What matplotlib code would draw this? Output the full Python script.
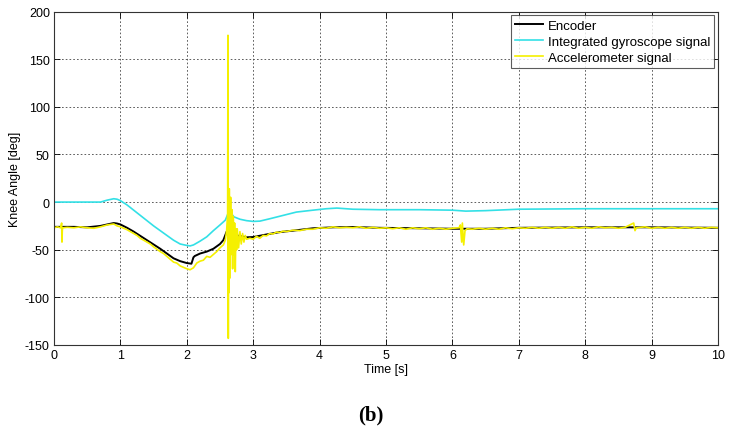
import matplotlib
matplotlib.use("Agg")
import matplotlib.pyplot as plt

plt.rcParams['font.family'] = ['Liberation Sans', 'DejaVu Sans']
plt.rcParams['axes.unicode_minus'] = False

# ---- data ----
enc_t = [0, 0.3, 0.5, 0.7, 0.8, 0.9, 0.95, 1.0, 1.1, 1.2, 1.3, 1.4, 1.5, 1.6, 1.7, 1.8,
         1.9, 2.0, 2.07, 2.1, 2.12, 2.2, 2.3, 2.4, 2.5, 2.55, 2.6, 2.65, 2.75, 2.9, 3.0,
         3.2, 3.4, 3.6, 3.9, 4.2, 4.5, 4.9, 5.5, 6.0, 6.5, 7.0, 8.0, 9.0, 10.0]
enc_v = [-26, -26, -26.5, -25, -23.5, -22, -22.5, -23.5, -27, -31, -35.5, -40, -44.5, -49, -54, -59,
         -62, -64, -64.7, -58, -56.6, -54, -52, -49, -44, -40, -31, -33, -35, -37, -36.7,
         -34, -31.5, -30, -27.5, -26.5, -26.2, -27, -27.5, -28, -28, -27, -26.5, -26.5, -27]

gyr_t = [0, 0.7, 0.8, 0.9, 0.95, 1.0, 1.1, 1.2, 1.3, 1.4, 1.5, 1.6, 1.7, 1.8, 1.9, 2.0, 2.05,
         2.1, 2.2, 2.3, 2.4, 2.5, 2.58, 2.63, 2.67, 2.71, 2.8, 2.9, 3.0, 3.1, 3.25, 3.45, 3.65,
         3.9, 4.1, 4.26, 4.5, 4.9, 5.5, 6.0, 6.2, 6.5, 7.0, 8.0, 9.0, 10.0]
gyr_v = [0, 0, 2, 3.5, 3, 1.5, -3, -8.5, -14, -19.5, -25, -30, -35, -40, -44, -45.5, -46,
         -45, -41, -36.5, -30, -24, -19, -10.5, -12, -15.5, -18, -19.5, -20.3, -20, -17.5, -14, -10.5,
         -8.5, -7, -6.3, -7.5, -8, -8, -8.5, -9.5, -9, -7.5, -7, -7, -7]

acc_t = [0, 0.05, 0.1, 0.115, 0.12, 0.125, 0.13, 0.2, 0.3, 0.4, 0.5, 0.6, 0.7, 0.8, 0.9, 0.95,
         1.0, 1.1, 1.2, 1.25, 1.3, 1.4, 1.45, 1.5, 1.6, 1.65, 1.7, 1.8, 1.85, 1.9, 2.0, 2.05,
         2.1, 2.15, 2.2, 2.25, 2.3, 2.35, 2.4, 2.45, 2.5, 2.55, 2.58, 2.6, 2.615, 2.62, 2.625,
         2.63, 2.635, 2.64, 2.645, 2.65, 2.66, 2.67, 2.68, 2.69, 2.7, 2.71, 2.72, 2.73, 2.74,
         2.75, 2.76, 2.78, 2.8, 2.82, 2.84, 2.86, 2.88, 2.9, 2.95, 3.0, 3.05, 3.1, 3.15, 3.2,
         3.25, 3.3, 3.35, 3.4, 3.45, 3.5, 3.6, 3.7, 3.8, 3.9, 4.0, 4.1, 4.2, 4.3, 4.4, 4.5,
         4.6, 4.7, 4.8, 4.9, 5.0, 5.1, 5.2, 5.3, 5.4, 5.5, 5.6, 5.7, 5.8, 5.9, 6.0,
         6.1, 6.12, 6.14, 6.15, 6.17, 6.19, 6.22, 6.3, 6.4, 6.5, 6.6, 6.7, 6.8, 6.9, 7.0,
         7.1, 7.2, 7.3, 7.4, 7.5, 7.6, 7.7, 7.8, 7.9, 8.0, 8.1, 8.2, 8.3, 8.4, 8.5, 8.6,
         8.73, 8.75, 8.77, 8.9, 9.0, 9.1, 9.2, 9.3, 9.4, 9.5, 9.6, 9.7, 9.8, 9.9, 10.0]
acc_v = [-27, -26, -27, -22, -42, -30, -27, -26.5, -27, -26, -27, -27.5, -26, -24, -23, -25,
         -26, -29, -33, -35, -38, -42, -44, -47, -52, -54, -57, -63, -64, -67, -70, -71,
         -69, -64, -62, -61, -57, -58, -55, -52, -48, -45, -40, -30, -12, 175, -143,
         10, -95, 14, -80, -40, 5, -55, -8, -70, -15, -55, -22, -73, -28,
         -50, -28, -48, -31, -44, -33, -42, -35, -39, -38, -39, -36, -38, -35, -35.5,
         -33, -33.5, -31.5, -32, -30.5, -31, -29.5, -30, -28.5, -28.5, -27, -27.5, -26, -27, -26.5, -27,
         -26, -27.5, -26.5, -27.5, -27, -28, -27, -28.5, -27, -28, -27, -28.5, -27.5, -28.5, -27.5,
         -27, -24, -42, -22, -45, -30, -28, -28.5, -27.5, -28.5, -27.5, -28.5, -27, -28, -27,
         -27.5, -26.5, -27.5, -26.5, -27.5, -26.5, -27.5, -26, -27.5, -26.5, -27.5, -26, -27, -26.5, -27.5, -26.5,
         -22, -30, -27, -26, -27.5, -26.5, -27.5, -26.5, -27.5, -26.5, -27.5, -26.5, -27.5, -26.5, -27]

x_ticks = [0, 1, 2, 3, 4, 5, 6, 7, 8, 9, 10]
y_ticks = [-150, -100, -50, 0, 50, 100, 150, 200]

fig = plt.figure(figsize=(7.33, 4.39), dpi=100)
ax = fig.add_axes([54/733, 1-346/439, (718-54)/733, (346-12.5)/439])

ax.plot(enc_t, enc_v, color='black', lw=1.4, label='Encoder')
ax.plot(gyr_t, gyr_v, color='#33e0e6', lw=1.2, label='Integrated gyroscope signal')
ax.plot(acc_t, acc_v, color='#f5f000', lw=1.2, label='Accelerometer signal')

ax.set_xlim(0, 10)
ax.set_ylim(-150, 200)
ax.set_xticks(x_ticks)
ax.set_yticks(y_ticks)
ax.tick_params(direction='in', length=4, width=0.6, labelsize=9, top=True, right=True, pad=3)
ax.grid(True, color='#444444', linestyle=(0, (2, 2.5)), linewidth=0.6)
for s in ax.spines.values():
    s.set_linewidth(0.8)
    s.set_color('#333333')

ax.set_xlabel('Time [s]', fontsize=9, labelpad=1)
ax.set_ylabel('Knee Angle [deg]', fontsize=9, labelpad=3)

leg = ax.legend(loc='upper right', fontsize=9.5, frameon=True, fancybox=False,
                edgecolor='#333333', borderaxespad=0.3, handlelength=2.1,
                handletextpad=0.35, labelspacing=0.3, borderpad=0.3)
leg.get_frame().set_linewidth(0.8)

fig.text(371/733, 1-415/439, '(b)', ha='center', va='center', fontsize=15,
         fontweight='bold', family=['Liberation Serif', 'DejaVu Serif'])

fig.savefig('out.png', dpi=100)
